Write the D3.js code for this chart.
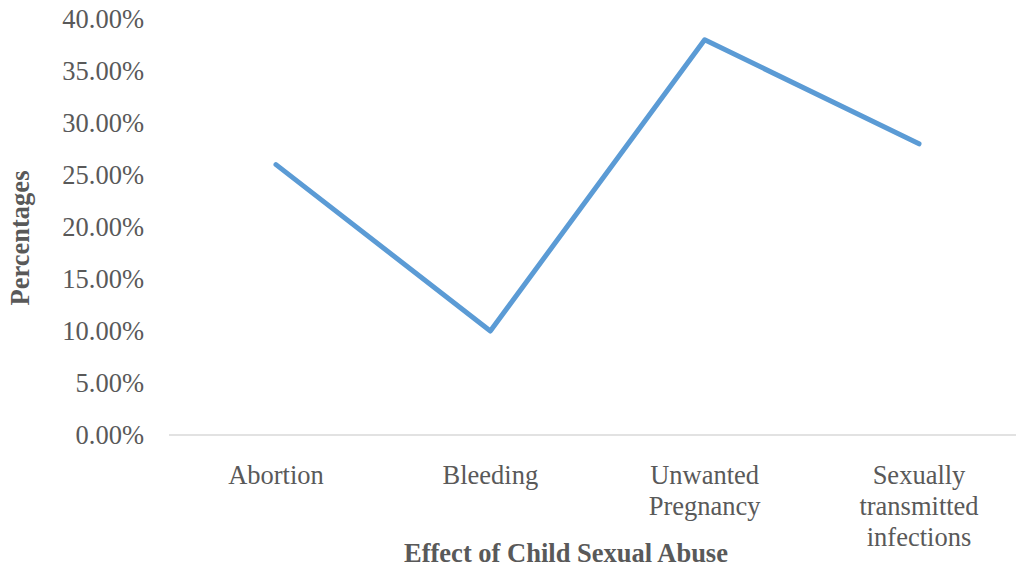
<!DOCTYPE html>
<html>
<head>
<meta charset="utf-8">
<script src="https://cdn.jsdelivr.net/npm/d3@7"></script>
<style>
  html, body { margin: 0; padding: 0; background: #fff; }
  text { font-family: "Liberation Serif", "Times New Roman", serif; fill: #595959; }
</style>
</head>
<body>
<div id="chart"></div>
<script>
(function() {
  'use strict';

  const categories = ['Abortion', 'Bleeding', 'Unwanted Pregnancy', 'Sexually transmitted infections'],
        catLines = [['Abortion'], ['Bleeding'], ['Unwanted', 'Pregnancy'], ['Sexually', 'transmitted', 'infections']],
        values = [0.26, 0.10, 0.38, 0.28],
        yTicks = [0, 0.05, 0.10, 0.15, 0.20, 0.25, 0.30, 0.35, 0.40];

  let width = 1016, height = 567, fs = '26.5px',
      svg = d3.select('#chart').append('svg')
        .attr('width', width)
        .attr('height', height),

      x = d3.scalePoint()
        .domain(categories)
        .range([276, 919]),

      y = d3.scaleLinear()
        .domain([0, 0.40])
        .range([435, 19]);

  // baseline
  svg.append('line')
    .attr('x1', 169).attr('x2', 1016)
    .attr('y1', y(0)).attr('y2', y(0))
    .attr('stroke', '#d9d9d9')
    .attr('stroke-width', 1.5);

  // y tick labels
  svg.selectAll('.ytick')
    .data(yTicks)
    .enter()
    .append('text')
      .attr('class', 'ytick')
      .attr('x', 144)
      .attr('y', d => y(d))
      .attr('dy', '0.35em')
      .attr('text-anchor', 'end')
      .style('font-size', fs)
      .text(d => d3.format('.2%')(d));

  // x category labels
  let xl = svg.selectAll('.xtick')
    .data(categories)
    .enter()
    .append('text')
      .attr('class', 'xtick')
      .attr('text-anchor', 'middle')
      .attr('transform', d => `translate(${x(d)},484)`)
      .style('font-size', fs);

  xl.selectAll('tspan')
    .data((d, i) => catLines[i])
    .enter()
    .append('tspan')
      .attr('x', 0)
      .attr('dy', (d, i) => i === 0 ? 0 : 31)
      .text(d => d);

  // line
  svg.append('path')
    .datum(values)
    .attr('fill', 'none')
    .attr('stroke', '#5b9bd5')
    .attr('stroke-width', 5)
    .attr('stroke-linejoin', 'round')
    .attr('stroke-linecap', 'round')
    .attr('d', d3.line()
      .x((d, i) => x(categories[i]))
      .y(d => y(d)));

  // axis titles
  svg.append('text')
    .attr('x', 566)
    .attr('y', 562)
    .attr('text-anchor', 'middle')
    .style('font-size', fs)
    .style('font-weight', 'bold')
    .text('Effect of Child Sexual Abuse');

  svg.append('text')
    .attr('transform', 'translate(29,238) rotate(-90)')
    .attr('text-anchor', 'middle')
    .style('font-size', fs)
    .style('font-weight', 'bold')
    .text('Percentages');

})();
</script>
</body>
</html>
